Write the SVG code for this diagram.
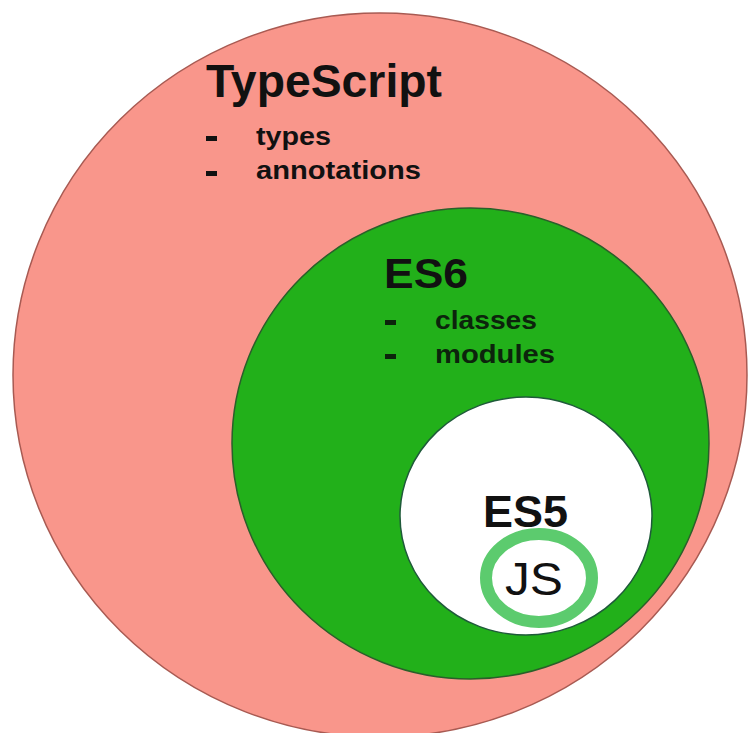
<svg xmlns="http://www.w3.org/2000/svg" width="749" height="733" viewBox="0 0 749 733">
<style>
.t{font-family:"Liberation Sans",Arial,Helvetica,sans-serif;fill:#111;}
.h{font-weight:bold;}
.b{font-weight:bold;font-size:25px;}
</style>
<rect x="0" y="0" width="749" height="733" fill="#ffffff"/>
<g id="typescript">
<ellipse cx="380" cy="375" rx="367" ry="362" fill="#f9968b" stroke="#a85a52" stroke-width="1.5"/>
<text class="t h" x="206" y="97" font-size="46" textLength="236" lengthAdjust="spacingAndGlyphs">TypeScript</text>
<rect x="206" y="136" width="11" height="5" fill="#111"/>
<text class="t b" x="256" y="145" textLength="75" lengthAdjust="spacingAndGlyphs">types</text>
<rect x="206" y="171" width="11" height="5" fill="#111"/>
<text class="t b" x="256" y="179" textLength="165" lengthAdjust="spacingAndGlyphs">annotations</text>
</g>
<g id="es6">
<ellipse cx="470.5" cy="443.5" rx="238.5" ry="235.5" fill="#22b01a" stroke="#2a5f2a" stroke-width="1.5"/>
<text class="t h" x="384" y="288" font-size="43" textLength="84" lengthAdjust="spacingAndGlyphs">ES6</text>
<rect x="385" y="320" width="11" height="5" fill="#0c240c"/>
<text class="t b" x="435" y="329" textLength="102" lengthAdjust="spacingAndGlyphs" style="fill:#0c240c">classes</text>
<rect x="385" y="354" width="11" height="5" fill="#0c240c"/>
<text class="t b" x="435" y="363" textLength="120" lengthAdjust="spacingAndGlyphs" style="fill:#0c240c">modules</text>
</g>
<g id="es5">
<ellipse cx="526" cy="516" rx="126" ry="119" fill="#ffffff" stroke="#1f5a3a" stroke-width="1.5"/>
<text class="t h" x="483" y="527" font-size="45" textLength="85" lengthAdjust="spacingAndGlyphs">ES5</text>
</g>
<g id="js">
<ellipse cx="539" cy="578" rx="53" ry="44" fill="#ffffff" stroke="#5ccb6e" stroke-width="12"/>
<text class="t" x="505" y="595" font-size="46" textLength="58" lengthAdjust="spacingAndGlyphs">JS</text>
</g>
<g id="connectors"/>
</svg>
